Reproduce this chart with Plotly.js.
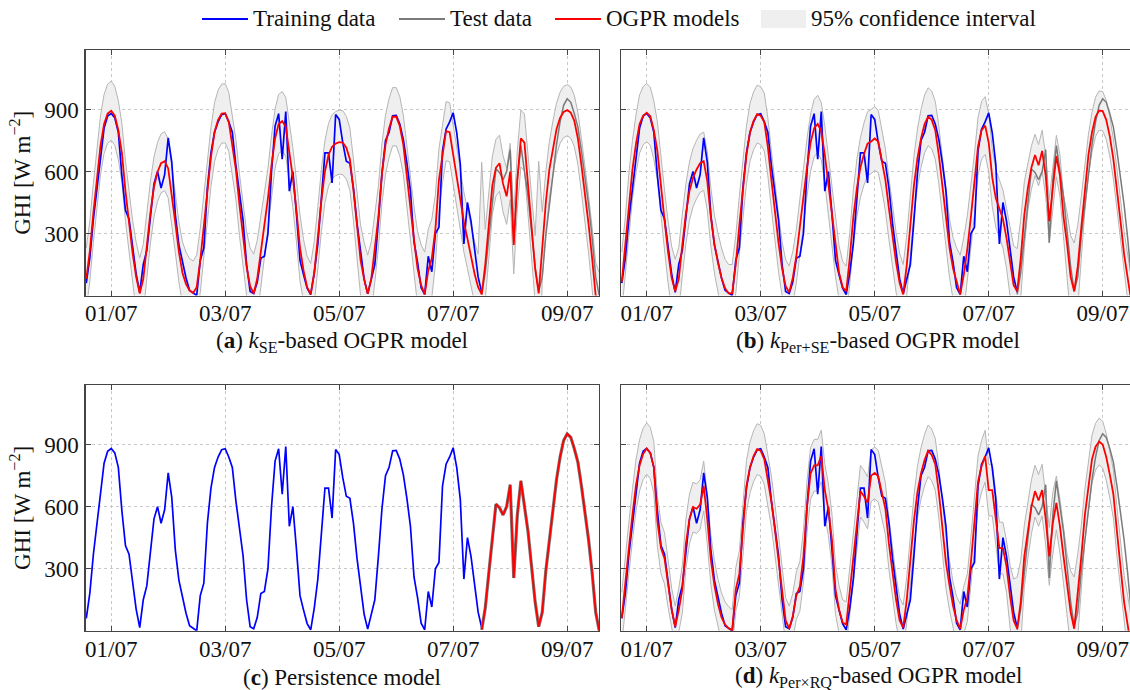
<!DOCTYPE html>
<html><head><meta charset="utf-8">
<script src="https://cdn.plot.ly/plotly-3.0.1.min.js"></script>
<style>html,body{margin:0;padding:0;overflow:hidden;background:#fff}#chart{width:1136px;height:690px}</style>
</head><body><div id="chart"></div>
<script>
// time grid: day index (peak of 01/07 at 1.0), samples every 1/16 day
const T0 = 0.5625, DT = 1 / 16;
const TEST_START = 111;
const xTickVals = [1, 3, 5, 7, 9];
const xTickText = ['01/07', '03/07', '05/07', '07/07', '09/07'];
const yTickVals = [300, 600, 900];

const training = [60,182,370,520,682,810,868,881,860,790,580,412,
370,250,105,15,150,218,380,540,600,520,585,763,
645,390,245,160,85,25,12,0,170,230,520,690,
790,840,875,880,840,790,628,500,365,150,20,10,
65,180,190,300,600,820,880,660,890,505,600,395,
170,100,35,5,110,250,460,690,690,545,876,852,
740,650,640,520,350,200,80,8,80,150,360,590,
750,790,870,872,830,755,640,505,260,160,37,5,
190,115,300,330,700,805,840,884,787,634,250,450,
360,230,90,15];

const test = [5,110,280,445,612,595,560,600,706,255,560,725,600,480,310,140,20,
90,290,440,580,730,840,920,952,935,880,815,700,575,440,280,90,0];

const persistence = [5,110,280,445,612,595,560,600,706,255,560,725,600,480,310,140,20,
90,290,440,580,730,840,920,952,935,880,815,700,575,440,280,90,0];

// (a) k_SE model
const meanSE = [80,215,400,570,727,830,880,894,870,800,690,505,
345,205,90,10,80,245,400,525,598,640,650,615,
490,350,211,110,55,24,12,40,170,340,500,670,
790,850,880,882,840,730,610,440,300,140,45,10,
82,210,340,470,630,760,830,844,816,700,570,410,
230,120,40,5,110,280,460,600,680,720,735,742,
740,715,660,510,330,170,78,8,80,230,380,590,
730,810,865,865,820,730,570,440,270,130,50,5,
120,180,320,560,690,795,790,680,555,465,356,275,
185,105,40,5,150,340,534,618,640,540,480,600,
244,560,760,740,540,330,130,10,245,450,610,715,
805,860,888,897,885,845,760,630,495,345,180,0,
-60];
const hwSE = [150,145,143,143,143,143,143,143,143,143,143,145,150,
160,168,172,168,160,
150,145,143,143,143,143,143,143,145,150,155,
155,155,155,155,150,
145,143,143,143,143,143,143,143,145,150,160,
170,185,190,185,170,
155,145,143,143,143,143,143,143,145,150,160,
150,150,150,150,150,
150,150,152,155,155,155,155,152,150,150,155,
170,180,187,180,170,
150,145,143,143,141,141,143,143,145,150,160,
180,195,205,200,190,
170,150,145,143,143,143,145,145,145,145,150,
155,160,640,170,160,
140,138,136,136,136,136,140,140,138,138,140,
150,160,640,160,150,
135,130,126,124,124,124,124,124,126,130,135,140,150,160,170];

// (b) k_Per+SE model
const meanPerSE = [66,240,450,610,735,830,870,885,868,800,700,520,
365,210,85,20,80,245,395,505,570,610,640,650,
555,380,250,160,85,35,10,10,150,340,500,680,
790,845,878,870,840,720,560,400,255,130,45,15,
85,190,340,470,620,740,810,830,795,680,530,395,
230,110,40,20,180,380,520,620,685,735,745,760,
745,660,560,420,280,160,60,5,147,330,530,665,
760,830,865,850,800,680,520,380,230,130,60,5,
100,225,380,540,720,800,822,740,570,470,420,370,
278,160,50,20,180,390,520,620,680,630,700,580,
360,520,675,580,380,250,90,20,140,330,520,680,
790,865,895,892,850,770,660,520,360,200,70,-40,
-140];
const hwPerSE = [145,141,141,141,141,141,141,141,141,141,141,143,145,
150,153,155,153,150,
145,141,141,141,141,141,141,141,141,143,145,
140,140,140,140,140,
140,140,140,140,140,140,140,140,140,140,140,
130,128,128,128,130,
135,139,139,139,139,139,139,139,139,139,139,
130,125,122,125,130,
140,145,150,155,155,155,150,150,150,150,150,
145,145,145,145,145,
142,140,140,140,140,140,140,140,140,140,142,
150,170,190,180,160,
150,145,140,140,140,140,140,140,140,140,145,
170,190,207,190,160,
110,105,100,100,100,100,105,105,100,100,105,
150,200,234,200,150,
110,100,96,95,95,95,95,95,96,100,105,110,120,130,140];

// (d) k_PerxRQ model
const meanPerRQ = [61,215,400,560,705,800,855,881,860,790,530,400,
350,228,102,20,100,200,420,540,598,590,610,700,
540,345,220,130,65,30,12,2,200,275,480,700,
790,844,878,870,830,720,625,489,340,180,50,10,
70,170,215,360,600,760,800,800,845,680,585,440,
200,102,40,30,190,340,520,675,650,618,750,763,
747,666,590,420,270,150,50,15,150,340,530,670,
760,825,870,850,805,670,480,330,220,120,50,10,
100,160,330,520,720,795,844,680,680,540,400,400,
311,166,50,10,140,360,480,600,675,630,680,540,
360,520,618,505,360,220,90,10,170,360,560,700,
830,890,915,900,840,755,660,480,310,140,30,-100,
-200];
const hwPerRQ = [125,124,124,124,124,124,124,124,124,124,124,124,124,
115,105,100,105,115,
120,120,120,120,120,120,120,120,120,120,118,
110,105,100,105,110,
120,123,123,123,123,123,123,123,123,123,120,
115,110,110,110,115,
120,125,125,125,125,125,125,125,125,125,120,
115,110,110,110,115,
120,125,125,125,125,125,125,125,125,125,120,
115,110,110,110,115,
120,125,125,125,125,125,125,125,125,125,120,
115,115,120,115,115,
120,125,125,125,125,125,125,125,125,125,125,
150,200,250,200,150,
130,130,125,125,125,125,140,150,130,130,130,
150,200,250,200,150,
125,120,116,113,113,113,113,113,116,120,125,130,140,150,160];

const legendLabels = ['Training data', 'Test data', 'OGPR models', '95% confidence interval'];
const captions = [
  '(<b>a</b>) <i>k</i><sub>SE</sub>-based OGPR model',
  '(<b>b</b>) <i>k</i><sub>Per+SE</sub>-based OGPR model',
  '(<b>c</b>) Persistence model',
  '(<b>d</b>) <i>k</i><sub>Per×RQ</sub>-based OGPR model'
];
const yTitle = 'GHI [W m<sup>−2</sup>]';

// ---------- build ----------
const W = 1136, H = 690;
const px = x => x / W, py = y => 1 - y / H;
const tTrain = training.map((_, i) => T0 + i * DT);
const tTest = test.map((_, i) => T0 + (TEST_START + i) * DT);
const tModel = meanSE.map((_, i) => T0 + i * DT);

const BLUE = '#0000ff', RED = '#ff0000', GRAY = '#7a7a7a', BAND = '#b5b5b5', FILL = '#efefef';
const FONT = 'Liberation Serif';

const traces = [];
function addBand(xa, ya, mean, hw) {
  const lo = mean.map((m, i) => m - hw[i]);
  const hi = mean.map((m, i) => m + hw[i]);
  traces.push({x: tModel, y: lo, xaxis: xa, yaxis: ya, mode: 'lines', line: {color: BAND, width: 1}, hoverinfo: 'skip', showlegend: false});
  traces.push({x: tModel, y: hi, xaxis: xa, yaxis: ya, mode: 'lines', fill: 'tonexty', fillcolor: FILL, line: {color: BAND, width: 1}, hoverinfo: 'skip', showlegend: false});
}
function addData(xa, ya, testWidth) {
  traces.push({x: tTrain, y: training, xaxis: xa, yaxis: ya, mode: 'lines', line: {color: BLUE, width: 1.7}, showlegend: false, name: legendLabels[0]});
  traces.push({x: tTest, y: test, xaxis: xa, yaxis: ya, mode: 'lines', line: {color: GRAY, width: testWidth}, showlegend: false, name: legendLabels[1]});
}
function addModel(xa, ya, x, y) {
  traces.push({x: x, y: y, xaxis: xa, yaxis: ya, mode: 'lines', line: {color: RED, width: 1.8}, showlegend: false, name: legendLabels[2]});
}
addBand('x', 'y', meanSE, hwSE); addData('x', 'y', 1.5); addModel('x', 'y', tModel, meanSE);
addBand('x2', 'y2', meanPerSE, hwPerSE); addData('x2', 'y2', 1.5); addModel('x2', 'y2', tModel, meanPerSE);
addData('x3', 'y3', 3.2); addModel('x3', 'y3', tTest, persistence);
addBand('x4', 'y4', meanPerRQ, hwPerRQ); addData('x4', 'y4', 1.5); addModel('x4', 'y4', tModel, meanPerRQ);

const LINE = '#454545';
const tickFont = {family: FONT, size: 23, color: '#111'};
function xAxis(l, r, anchor) {
  return {domain: [px(l), px(r)], anchor: anchor, range: [0.549, 9.558], tickmode: 'array', tickvals: xTickVals, ticktext: xTickText,
    showline: true, mirror: 'ticks', linecolor: LINE, linewidth: 1.2, ticks: 'inside', ticklen: 5, tickcolor: LINE,
    showgrid: true, gridcolor: '#c8c8c8', griddash: 'dot', gridwidth: 1, zeroline: false,
    tickfont: tickFont, ticklabelstandoff: -3, fixedrange: true};
}
function yAxis(top, bottom, anchor, labels) {
  const a = {domain: [py(bottom), py(top)], anchor: anchor, range: [0, 1188], tickmode: 'array', tickvals: yTickVals,
    showticklabels: labels, showline: true, mirror: 'ticks', linecolor: LINE, linewidth: 1.2, ticks: 'inside', ticklen: 5, tickcolor: LINE,
    showgrid: true, gridcolor: '#c8c8c8', griddash: 'dot', gridwidth: 1, zeroline: false,
    tickfont: tickFont, ticklabelstandoff: 1, fixedrange: true};
  if (labels) a.title = {text: yTitle, font: {family: FONT, size: 23, color: '#111'}, standoff: 7};
  return a;
}

const layout = {
  width: W, height: H, margin: {l: 0, r: 0, t: 0, b: 0}, paper_bgcolor: '#fff', plot_bgcolor: '#fff', showlegend: false,
  font: {family: FONT, size: 22, color: '#111'},
  xaxis: xAxis(85.5, 599, 'y'), yaxis: yAxis(50, 295.5, 'x', true),
  xaxis2: xAxis(621, 1134.5, 'y2'), yaxis2: yAxis(50, 295.5, 'x2', false),
  xaxis3: xAxis(85.5, 599, 'y3'), yaxis3: yAxis(385, 630.8, 'x3', true),
  xaxis4: xAxis(621, 1134.5, 'y4'), yaxis4: yAxis(385, 630.8, 'x4', false),
  shapes: [
    {type: 'line', xref: 'paper', yref: 'paper', x0: px(202), x1: px(248), y0: py(19), y1: py(19), line: {color: BLUE, width: 1.8}},
    {type: 'line', xref: 'paper', yref: 'paper', x0: px(399), x1: px(445), y0: py(19), y1: py(19), line: {color: GRAY, width: 1.8}},
    {type: 'line', xref: 'paper', yref: 'paper', x0: px(555), x1: px(601), y0: py(19), y1: py(19), line: {color: RED, width: 1.8}},
    {type: 'rect', xref: 'paper', yref: 'paper', x0: px(761), x1: px(806), y0: py(28), y1: py(10), fillcolor: FILL, line: {width: 0}}
  ],
  annotations: [
    {text: legendLabels[0], x: px(251), y: py(19), xanchor: 'left', yanchor: 'middle'},
    {text: legendLabels[1], x: px(448), y: py(19), xanchor: 'left', yanchor: 'middle'},
    {text: legendLabels[2], x: px(604), y: py(19), xanchor: 'left', yanchor: 'middle'},
    {text: legendLabels[3], x: px(809), y: py(19), xanchor: 'left', yanchor: 'middle'},
    {text: captions[0], x: px(342), y: py(342), xanchor: 'center', yanchor: 'middle'},
    {text: captions[1], x: px(878), y: py(342), xanchor: 'center', yanchor: 'middle'},
    {text: captions[2], x: px(342), y: py(677), xanchor: 'center', yanchor: 'middle'},
    {text: captions[3], x: px(878), y: py(677), xanchor: 'center', yanchor: 'middle'}
  ].map(a => Object.assign({xref: 'paper', yref: 'paper', showarrow: false, font: {family: FONT, size: 23, color: '#111'}}, a))
};

Plotly.newPlot('chart', traces, layout, {staticPlot: true, displayModeBar: false});
</script></body></html>
